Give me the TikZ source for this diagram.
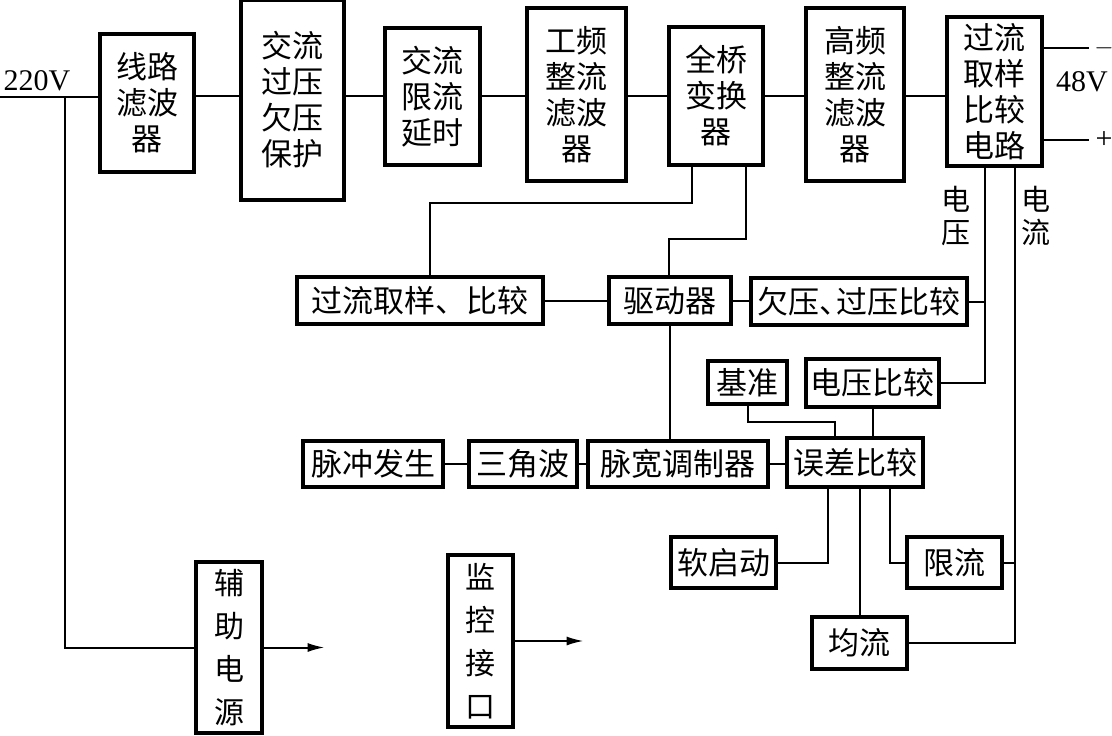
\documentclass[tikz,border=0pt]{standalone}
\usepackage{fontspec}
\setmainfont{Liberation Serif}
\newfontfamily\cjk{Noto Sans CJK SC}
\usepackage{tikz}
\usetikzlibrary{arrows.meta, calc}

\begin{document}
\begin{tikzpicture}[x=1pt, y=-1pt,
                   box/.style={draw, line width=3.2pt, inner sep=0pt, align=center, font=\cjk\fontsize{31}{36}\selectfont},
                   tall/.style={box, font=\cjk\fontsize{30}{43}\selectfont},
                   wire/.style={line width=2pt},
                   lbl/.style={inner sep=0pt, font=\fontsize{30}{34}\selectfont},
                   side/.style={inner sep=0pt, align=center, font=\cjk\fontsize{29}{33}\selectfont}]
\useasboundingbox (0,0) rectangle (1112,736);

% main power path
\node[box, minimum width=94, minimum height=138] (filt) at (147,103) {线路\\滤波\\器};
\node[box, minimum width=103, minimum height=200] (acp) at (292.5,100) {交流\\过压\\欠压\\保护};
\node[box, minimum width=95, minimum height=137] (lim) at (432.5,96.5) {交流\\限流\\延时};
\node[box, minimum width=99, minimum height=173] (rect) at (576.5,94.5) {工频\\整流\\滤波\\器};
\node[box, minimum width=94, minimum height=138] (bridge) at (716,96) {全桥\\变换\\器};
\node[box, minimum width=98, minimum height=173] (hf) at (855,94.5) {高频\\整流\\滤波\\器};
\node[box, minimum width=95, minimum height=149] (ocs) at (994.5,91.5) {过流\\取样\\比较\\电路};

% control
\node[box, minimum width=246, minimum height=47] (ocsc) at (420,300.5) {过流取样、比较};
\node[box, minimum width=122, minimum height=47] (drv) at (670,300.5) {驱动器};
\node[box, minimum width=216, minimum height=47] (uvov) at (859,301.5) {欠压、\kern-14pt过压比较};
\node[box, minimum width=79, minimum height=43] (ref) at (747.5,382.5) {基准};
\node[box, minimum width=133, minimum height=48] (vcmp) at (872.5,383) {电压比较};
\node[box, minimum width=140, minimum height=46] (pulse) at (373,464) {脉冲发生};
\node[box, minimum width=108, minimum height=46] (tri) at (523,464) {三角波};
\node[box, minimum width=180, minimum height=46] (pwm) at (678,464) {脉宽调制器};
\node[box, minimum width=136, minimum height=49] (err) at (855,462.5) {误差比较};
\node[box, minimum width=105, minimum height=51] (soft) at (723.5,562.5) {软启动};
\node[box, minimum width=95, minimum height=51] (cl) at (954.5,562.5) {限流};
\node[box, minimum width=95, minimum height=52] (share) at (859.5,643) {均流};

% auxiliary
\node[tall, minimum width=66, minimum height=171] (aux) at (229,647.5) {辅\\助\\电\\源};
\node[tall, minimum width=65, minimum height=172] (mon) at (480.5,641) {监\\控\\接\\口};

% labels
\node[lbl] (v220) at (37,81) {220V};
\node[lbl] (v48) at (1082,82) {48V};
\node[lbl] (neg) at (1104,48) {$-$};
\node[lbl] (pos) at (1104,140) {+};
\node[side] (lv) at (956,216) {电\\压};
\node[side] (li) at (1036,216) {电\\流};

\coordinate (in) at (0,97);
\coordinate (tap) at (65,97);
\coordinate (bus) at (0,96);
\coordinate (k1) at (430,203);
\coordinate (k2) at (669,239);
\coordinate (k3) at (835,422);
\coordinate (vtap) at ($(ocs.south)+(-10,0)$);
\coordinate (itap) at ($(ocs.south)+(20,0)$);

\begin{scope}[wire]
\draw (in) -- (in -| filt.west);
\draw (tap) |- (aux.west);
\draw (filt.east |- bus) -- (acp.west |- bus);
\draw (acp.east |- bus) -- (lim.west |- bus);
\draw (lim.east |- bus) -- (rect.west |- bus);
\draw (rect.east |- bus) -- (bridge.west |- bus);
\draw (bridge.east |- bus) -- (hf.west |- bus);
\draw (hf.east |- bus) -- (ocs.west |- bus);
\draw (ocs.east |- neg) -- ++(45,0);
\draw (ocs.east |- pos) -- ++(45,0);

\draw ($(bridge.south)+(-24,0)$) |- (k1) -- (k1 |- ocsc.north);
\draw ($(bridge.south)+(30,0)$) |- (k2) -- (k2 |- drv.north);
\draw (ocsc.east) -- (drv.west);
\draw (drv.east) -- (drv.east -| uvov.west);
\draw (drv.south) -- (drv.south |- pwm.north);

\draw (vtap) |- (vcmp.east);
\draw (uvov.east) -- (uvov.east -| vtap);
\draw (itap) |- (share.east);
\draw (cl.east) -- (cl.east -| itap);

\draw (pulse.east) -- (tri.west);
\draw (tri.east) -- (pwm.west);
\draw (pwm.east) -- (pwm.east -| err.west);
\draw (ref.south) |- (k3) -- (k3 |- err.north);
\draw (vcmp.south) -- (vcmp.south |- err.north);
\draw ($(err.south)+(-27,0)$) |- (soft.east);
\draw (share.north |- err.south) -- (share.north);
\draw ($(err.south)+(35,0)$) |- (cl.west);

\draw[-{Latex[length=17pt, width=9pt]}] (aux.east) -- ++(61,0);
\draw[-{Latex[length=17pt, width=9pt]}] (mon.east) -- ++(69,0);
\end{scope}
\end{tikzpicture}
\end{document}
